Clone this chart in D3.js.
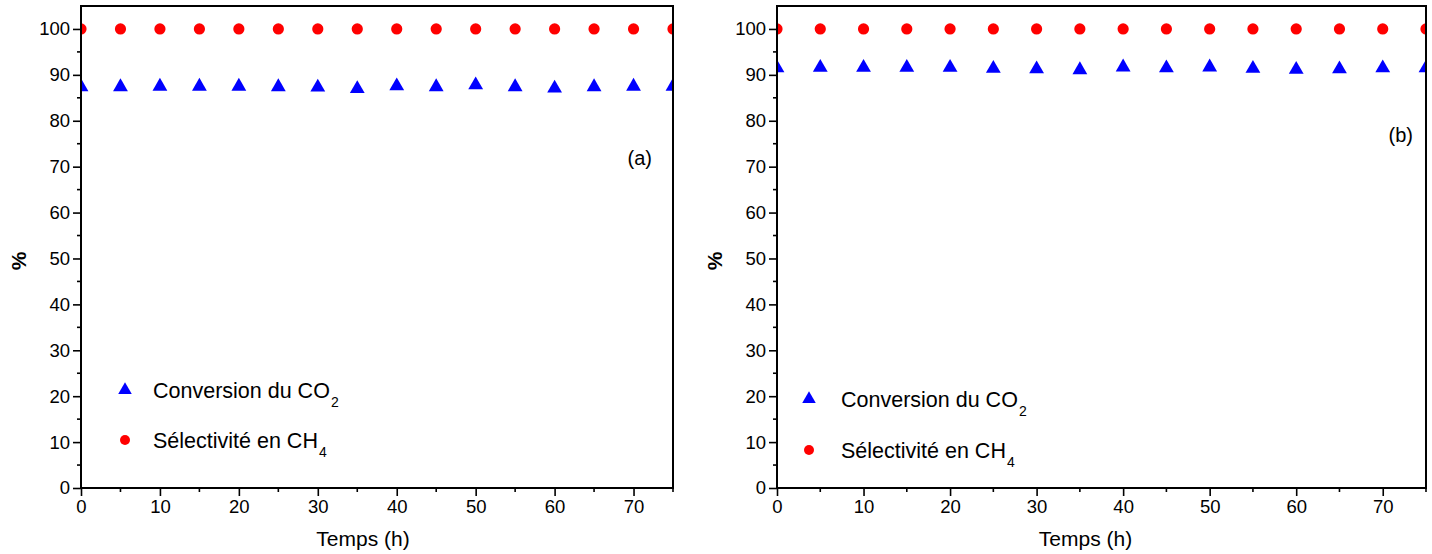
<!DOCTYPE html>
<html>
<head>
<meta charset="utf-8">
<script src="https://cdn.jsdelivr.net/npm/d3@7"></script>
<style>
  html, body { margin: 0; padding: 0; background: #fff; }
  svg { display: block; }
  text { font-family: "Liberation Sans", Arial, sans-serif; fill: #000; }
</style>
</head>
<body>
<svg id="chart" width="1432" height="554"></svg>
<script>
// ---- data ----
const hours = [0, 5, 10, 15, 20, 25, 30, 35, 40, 45, 50, 55, 60, 65, 70, 75];
const co2ConvA = [87.6, 87.6, 87.7, 87.7, 87.7, 87.6, 87.5, 87.2, 87.8, 87.6, 88.0, 87.6, 87.3, 87.6, 87.7, 87.7];
const ch4SelA  = [100, 100, 100, 100, 100, 100, 100, 100, 100, 100, 100, 100, 100, 100, 100, 100];
const co2ConvB = [91.7, 91.8, 91.8, 91.8, 91.8, 91.6, 91.5, 91.3, 91.9, 91.7, 91.9, 91.6, 91.4, 91.5, 91.7, 91.7];
const ch4SelB  = [100, 100, 100, 100, 100, 100, 100, 100, 100, 100, 100, 100, 100, 100, 100, 100];
const yTicks = [0, 10, 20, 30, 40, 50, 60, 70, 80, 90, 100];
const xTicks = [0, 10, 20, 30, 40, 50, 60, 70];
const seriesNames = ["Conversion du CO", "Sélectivité en CH"];
const seriesSubs = ["2", "4"];
const panelLabels = ["(a)", "(b)"];
const xTitle = "Temps (h)";
const yTitle = "%";

(function () {
const svg = d3.select("#chart");

const panels = [
  { id: "a", left: 81, right: 673, co2: co2ConvA, ch4: ch4SelA, label: panelLabels[0],
    labelPos: [652, 165], legend: [125, 390, 440], legendText: 153, titleShift: -14 },
  { id: "b", left: 777, right: 1426, co2: co2ConvB, ch4: ch4SelB, label: panelLabels[1],
    labelPos: [1413, 142], legend: [809, 399, 450], legendText: 841, titleShift: -16 }
];

const plotTop = 6, plotBottom = 488;
const tri = d3.symbol().type(d3.symbolTriangle);

panels.forEach(p => {
  const x = d3.scaleLinear().domain([0, 75]).range([p.left, p.right]);
  const y = d3.scaleLinear().domain([0, 105]).range([plotBottom, plotTop]);
  const g = svg.append("g");

  svg.append("clipPath").attr("id", "clip-" + p.id)
    .append("rect").attr("x", p.left).attr("y", plotTop)
    .attr("width", p.right - p.left).attr("height", plotBottom - plotTop);

  const plot = g.append("g").attr("clip-path", "url(#clip-" + p.id + ")");

  plot.selectAll("path.co2").data(hours.map((h, i) => [h, p.co2[i]]))
    .enter().append("path")
    .attr("d", tri.size(95)())
    .attr("transform", d => `translate(${x(d[0])},${y(d[1]) + 1})`)
    .attr("fill", "#0000ff");

  plot.selectAll("circle.ch4").data(hours.map((h, i) => [h, p.ch4[i]]))
    .enter().append("circle")
    .attr("cx", d => x(d[0])).attr("cy", d => y(d[1]))
    .attr("r", 5.6).attr("fill", "#ff0000");

  const yAxis = d3.axisLeft(y).tickValues(yTicks).tickSize(8).tickPadding(3);
  const yg = g.append("g").attr("transform", `translate(${p.left},0)`).call(yAxis);
  const xAxis = d3.axisBottom(x).tickValues(xTicks).tickSize(8).tickPadding(4);
  const xg = g.append("g").attr("transform", `translate(0,${plotBottom})`).call(xAxis);
  [yg, xg].forEach(a => {
    a.select(".domain").remove();
    a.selectAll("line").attr("stroke", "#000").attr("stroke-width", 1.6);
    a.selectAll("text").style("font-family", '"Liberation Sans", Arial, sans-serif')
      .style("font-size", "18.5px").attr("fill", "#000");
  });

  const yMinor = d3.range(5, 105, 10);
  g.append("g").selectAll("line").data(yMinor).enter().append("line")
    .attr("x1", p.left - 4).attr("x2", p.left)
    .attr("y1", d => y(d)).attr("y2", d => y(d))
    .attr("stroke", "#000").attr("stroke-width", 1.6);
  const xMinor = d3.range(5, 76, 10);
  g.append("g").selectAll("line").data(xMinor).enter().append("line")
    .attr("x1", d => x(d)).attr("x2", d => x(d))
    .attr("y1", plotBottom).attr("y2", plotBottom + 4)
    .attr("stroke", "#000").attr("stroke-width", 1.6);

  g.append("rect").attr("x", p.left).attr("y", plotTop)
    .attr("width", p.right - p.left).attr("height", plotBottom - plotTop)
    .attr("fill", "none").attr("stroke", "#000").attr("stroke-width", 2);

  const cx = (p.left + p.right) / 2 + p.titleShift;
  g.append("text").attr("x", cx).attr("y", 546).attr("text-anchor", "middle")
    .style("font-size", "21px").text(xTitle);
  g.append("text").attr("transform", `translate(${p.left - 55},${261}) rotate(-90)`)
    .attr("text-anchor", "middle").style("font-size", "21px").style("font-weight", "bold")
    .text(yTitle);

  g.append("text").attr("x", p.labelPos[0]).attr("y", p.labelPos[1])
    .attr("text-anchor", "end").style("font-size", "20px").text(p.label);

  const [lx, ly1, ly2] = p.legend;
  g.append("path").attr("d", tri.size(80)()).attr("transform", `translate(${lx},${ly1})`)
    .attr("fill", "#0000ff");
  g.append("circle").attr("cx", lx).attr("cy", ly2).attr("r", 5).attr("fill", "#ff0000");
  [ly1, ly2].forEach((ly, i) => {
    const t = g.append("text").attr("x", p.legendText).attr("y", ly + 8)
      .style("font-size", "21.5px");
    t.append("tspan").text(seriesNames[i]);
    t.append("tspan").attr("dy", 9).attr("dx", 1).style("font-size", "14px").text(seriesSubs[i]);
  });
});
})();
</script>
</body>
</html>
